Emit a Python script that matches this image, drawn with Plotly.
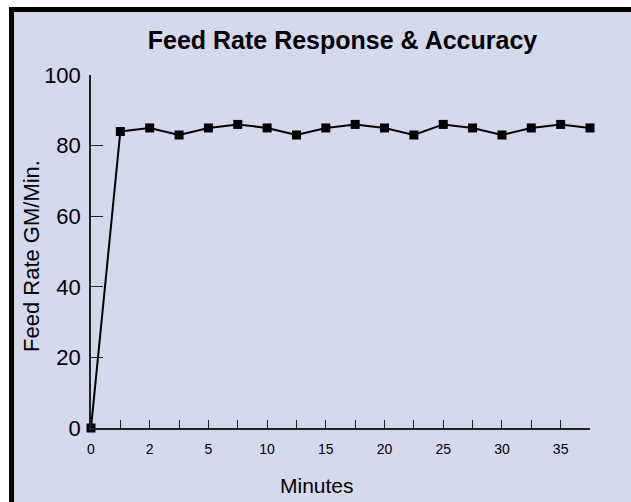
import plotly.graph_objects as go

# Data
minutes_index = list(range(18))
feed_rate = [0, 84, 85, 83, 85, 86, 85, 83, 85, 86, 85, 83, 86, 85, 83, 85, 86, 85]
tick_positions = [0, 2, 4, 6, 8, 10, 12, 14, 16]
tick_labels = ["0", "2", "5", "10", "15", "20", "25", "30", "35"]

W, H = 631, 502
L, R, T, B = 91, 41, 75, 74
pw, ph = W - L - R, H - T - B

def px_x(x):
    return (x - L) / pw

def px_y(y):
    return (H - B - y) / ph

FONT = "Arial, Liberation Sans, Helvetica, sans-serif"
LAV = "rgb(212,217,236)"

fig = go.Figure()
fig.add_trace(go.Scatter(
    x=minutes_index, y=feed_rate, mode="lines+markers",
    line=dict(color="black", width=2),
    marker=dict(symbol="square", size=9, color="black"),
    cliponaxis=False, showlegend=False,
))

fig.update_layout(
    width=W, height=H,
    margin=dict(l=L, r=R, t=T, b=B, pad=0),
    paper_bgcolor="white",
    plot_bgcolor="rgba(0,0,0,0)",
    font=dict(family=FONT, color="black"),
    title=dict(text="<b>Feed Rate Response & Accuracy</b>",
               font=dict(size=25, family=FONT, color="black"),
               xref="container", yref="container",
               x=342.5 / W, y=1 - 40 / H, xanchor="center", yanchor="middle"),
    xaxis=dict(range=[0, 17], tickmode="array", tickvals=minutes_index,
               ticktext=[tick_labels[tick_positions.index(i)] if i in tick_positions else "" for i in minutes_index],
               ticks="inside", ticklen=8, tickwidth=1.2, tickcolor="#222",
               showline=True, linecolor="#222", linewidth=1.5,
               showgrid=False, zeroline=False,
               tickfont=dict(size=14, family=FONT), ticklabelstandoff=7),
    yaxis=dict(range=[0, 100], tickvals=[0, 20, 40, 60, 80, 100],
               ticks="inside", ticklen=12, tickwidth=1.2, tickcolor="#222",
               showline=True, linecolor="#222", linewidth=1.5,
               showgrid=False, zeroline=False,
               tickfont=dict(size=22, family=FONT), ticklabelstandoff=4),
    shapes=[dict(type="rect", xref="paper", yref="paper", layer="below",
                 x0=px_x(11.5), x1=px_x(700), y0=px_y(560), y1=px_y(9.5),
                 fillcolor=LAV, line=dict(color="black", width=5))],
    annotations=[
        dict(text="Minutes", xref="paper", yref="paper", x=px_x(316.5), y=px_y(485),
             xanchor="center", yanchor="middle", showarrow=False,
             font=dict(size=21, family=FONT)),
        dict(text="Feed Rate GM/Min.", xref="paper", yref="paper", x=px_x(31), y=px_y(256),
             xanchor="center", yanchor="middle", showarrow=False, textangle=-90,
             font=dict(size=22, family=FONT)),
    ],
)

fig.write_html("out.html", config={"displayModeBar": False},
               post_script="document.body.style.margin='0';document.body.style.overflow='hidden';")
